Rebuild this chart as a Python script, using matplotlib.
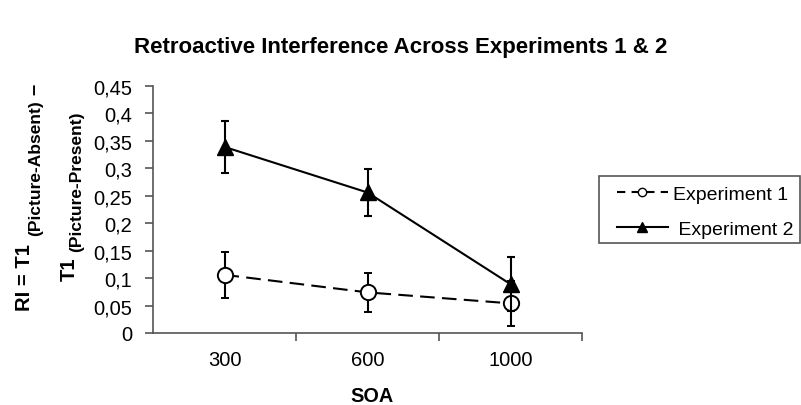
import matplotlib
matplotlib.use('Agg')
import matplotlib.pyplot as plt
from matplotlib.lines import Line2D
from matplotlib.patches import Rectangle

plt.rcParams['font.family'] = ['Liberation Sans', 'DejaVu Sans']

# data
soa = ['300', '600', '1000']
exp1 = [0.106, 0.074, 0.054]
exp1_err = [0.042, 0.036, 0.041]
exp2 = [0.339, 0.256, 0.089]
exp2_err = [0.048, 0.042, 0.049]
yticks = [0, 0.05, 0.1, 0.15, 0.2, 0.25, 0.3, 0.35, 0.4, 0.45]

W, H = 801, 406
fig = plt.figure(figsize=(W / 100, H / 100), dpi=100)
ax = fig.add_axes([153 / W, 1 - 334 / H, (582 - 153) / W, (334 - 87) / H])

dash = (0, (7, 3.5))
x = [1, 2, 3]
ax.errorbar(x, exp1, yerr=exp1_err, color='black', ls=dash, lw=1.5,
            marker='o', ms=11, mfc='white', mec='black', mew=1.4,
            capsize=3.2, elinewidth=1.5, capthick=1.5, zorder=3)
ax.errorbar(x, exp2, yerr=exp2_err, color='black', ls='-', lw=1.5,
            marker='^', ms=11, mfc='black', mec='black',
            capsize=3.2, elinewidth=1.5, capthick=1.5, zorder=4)

ax.set_xlim(0.5, 3.5)
ax.set_ylim(0, 0.45)
ax.set_yticks(yticks)
ax.set_yticklabels([('%g' % v).replace('.', ',') for v in yticks], fontsize=14.5)
ax.set_xticks([1.5, 2.5, 3.5])
ax.set_xticklabels([])
ax.set_xticks(x, minor=True)
ax.set_xticklabels(soa, minor=True, fontsize=14.5)
ax.tick_params(axis='x', which='minor', length=0, pad=12)
ax.tick_params(axis='both', which='major', length=6, color='#555555', width=1.2)
ax.tick_params(axis='y', pad=9)
for s in ['top', 'right']:
    ax.spines[s].set_visible(False)
for s in ['left', 'bottom']:
    ax.spines[s].set_color('#555555')
    ax.spines[s].set_linewidth(1.2)

fig.text(372 / W, 1 - 397 / H, 'SOA', ha='center', va='center',
         fontsize=14.3, fontweight='bold')
fig.text(401 / W, 1 - 47 / H, 'Retroactive Interference Across Experiments 1 & 2',
         ha='center', va='center', fontsize=16, fontweight='bold')

# y label made of pieces
fig.text(25 / W, 1 - 278 / H, 'RI = T1', rotation=90, ha='center', va='center',
         fontsize=14.5, fontweight='bold')
fig.text(36 / W, 1 - 168 / H, '(Picture-Absent)', rotation=90, ha='center', va='center',
         fontsize=12.5, fontweight='bold')
fig.text(34 / W, 1 - 89 / H, '–', rotation=90, ha='center', va='center',
         fontsize=14.5, fontweight='bold')
fig.text(69 / W, 1 - 269 / H, 'T1', rotation=90, ha='center', va='center',
         fontsize=14.5, fontweight='bold')
fig.text(77 / W, 1 - 182 / H, '(Picture-Present)', rotation=90, ha='center', va='center',
         fontsize=12.5, fontweight='bold')

# legend: frame drawn separately, handles without error bars
fig.patches.append(Rectangle((599 / W, 1 - 244 / H), 201 / W, 67 / H,
                             transform=fig.transFigure, fill=False,
                             ec='#555555', lw=1.2))
handles = [Line2D([], [], color='black', ls=(0, (4, 3)), lw=1.5, marker='o', ms=6,
                  mfc='white', mec='black', mew=1.0),
           Line2D([], [], color='black', ls='-', lw=1.5, marker='^', ms=7,
                  mfc='black', mec='black')]
fig.legend(handles, ['Experiment 1', ' Experiment 2'], loc='upper left',
           bbox_to_anchor=(617 / W, 1 - 186 / H), fontsize=14, frameon=False,
           handlelength=2.6, handletextpad=0.3, labelspacing=0.92,
           borderaxespad=0, borderpad=0)

fig.savefig('out.png', dpi=100)
